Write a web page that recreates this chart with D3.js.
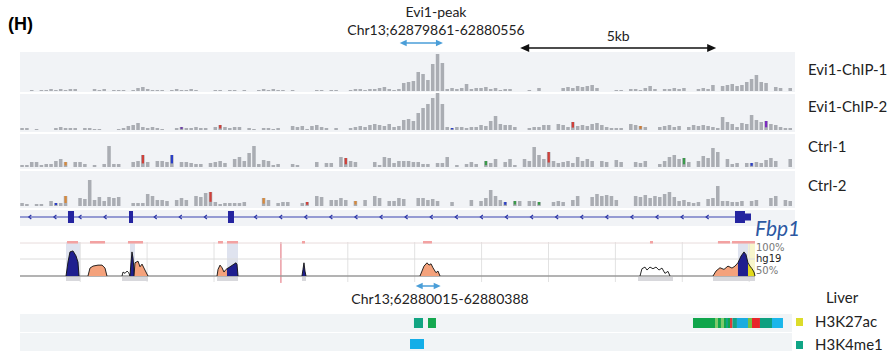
<!DOCTYPE html>
<html>
<head>
<meta charset="utf-8">
<script src="https://cdn.jsdelivr.net/npm/d3@7"></script>
<style>
  body { margin: 0; background: #fff; }
  svg text { font-family: Lato, "Open Sans", sans-serif; }
</style>
</head>
<body>
<svg id="chart" width="895" height="356"></svg>
<script>
// ---------- IGV view: chr13 window, read coverage in 160 bins ----------
const igvStart = 62869970, igvEnd = 62889690;
const nBins = 160;

const trackNames = ["Evi1-ChIP-1", "Evi1-ChIP-2", "Ctrl-1", "Ctrl-2"];

const evi1Chip1 = [
  0,0,1,0,1,1,2,1,2,1,   2,2,0,0,0,2,1,2,0,1,   1,1,0,1,3,4,2,1,1,1,   0,1,2,1,1,2,1,0,0,0,
  1,1,0,1,1,0,1,0,0,1,   2,1,2,1,1,0,1,0,0,0,   0,1,1,0,1,1,0,0,1,2,   2,1,2,2,3,4,2,1,2,8,
  9,10,19,17,11,27,37,28,2,3,   2,3,7,2,3,3,4,2,3,1,   2,2,0,0,0,1,0,3,0,0,   0,0,3,4,3,5,4,5,6,3,
  0,0,0,1,1,0,2,2,1,3,   5,2,0,2,2,3,2,3,0,0,   2,3,2,6,0,5,6,7,5,6,   9,12,16,9,8,0,4,3,0,3
];
const evi1Chip2 = [
  2,2,0,1,0,0,0,2,3,2,   2,2,0,2,2,1,1,0,0,0,   1,2,4,5,7,3,2,3,2,1,   0,0,2,3,2,2,3,2,2,0,
  3,5,3,2,3,3,0,2,1,0,   2,2,1,2,0,0,4,3,4,1,   4,5,3,2,0,2,0,0,2,3,   4,3,5,6,5,4,6,3,4,10,
  11,9,17,22,26,32,37,26,3,2,   3,3,2,3,3,5,4,9,14,6,   5,5,3,0,0,2,3,3,5,5,   0,6,5,3,8,4,5,4,6,7,
  5,3,2,2,2,0,6,5,4,3,   0,0,3,4,5,3,4,0,3,5,   4,5,4,3,2,13,8,6,3,7,   6,15,10,8,9,6,5,3,2,2
];
const ctrl1 = [
  2,2,5,5,2,3,3,6,8,5,   0,5,5,3,0,2,0,3,21,3,   3,0,0,5,6,12,5,0,6,6,   5,12,0,5,5,4,3,3,0,4,
  5,6,4,0,8,10,6,14,21,3,   7,6,2,3,0,0,3,2,0,0,   0,5,0,4,4,0,10,9,6,5,   0,0,0,5,2,10,9,4,6,6,
  6,5,5,3,3,0,4,4,10,0,   2,0,3,5,3,0,6,4,8,0,   5,8,2,0,8,6,20,12,8,15,   6,4,5,6,4,10,6,8,6,0,
  6,5,0,7,5,0,0,5,4,6,   0,0,3,6,10,12,8,9,5,0,   6,11,9,19,15,0,8,3,4,0,   4,4,5,4,7,9,6,0,0,8
];
const ctrl2 = [
  3,2,0,2,2,0,5,3,3,10,   0,0,8,7,26,6,9,5,9,8,   9,0,0,3,3,3,12,10,6,6,   5,0,6,8,6,0,10,9,13,14,
  4,2,3,3,3,3,4,0,0,0,   8,6,0,3,4,4,0,0,3,4,   0,10,9,0,6,6,8,6,0,5,   0,6,0,10,8,0,5,5,8,7,
  0,0,8,8,6,7,5,0,0,4,   0,0,0,6,0,5,8,16,10,6,   4,0,5,5,0,5,5,4,0,0,   4,5,4,0,6,10,0,0,9,12,
  10,11,10,6,0,0,0,10,9,11,   8,10,9,12,14,9,5,6,4,3,   4,0,7,8,20,5,5,4,4,5,   0,5,6,0,0,8,10,0,6,5
];

// mismatched-base bins per track: [bin, base colour]
const mismatchChip1 = [];
const mismatchChip2 = [[33,"#6e3fa8"],[41,"#d0403a"],[89,"#2b3fc8"],[114,"#d0403a"],[128,"#d07a30"],[154,"#7b2bc0"]];
const mismatchCtrl1 = [[9,"#d8893a"],[25,"#d0403a"],[31,"#2b3fc8"],[67,"#d0403a"],[96,"#3a9a4a"],[109,"#d0403a"],[137,"#3a9a4a"],[151,"#2b3fc8"]];
const mismatchCtrl2 = [[7,"#2b3fc8"],[9,"#d8893a"],[39,"#d0403a"],[50,"#d8893a"],[59,"#d0403a"],[69,"#d8893a"],[100,"#2b3fc8"],[102,"#3a9a4a"],[107,"#3a9a4a"]];

// Fbp1 gene model (minus strand)
const geneName = "Fbp1";
const geneEnd = 62888618;
const geneExons = [
  [62871194, 62871348, "cds"],
  [62872751, 62872853, "cds"],
  [62875276, 62875429, "cds"],
  [62888210, 62888465, "cds"],
  [62888465, 62888618, "utr"]
];

// annotations
const peakLabel = "Evi1-peak";
const peakStart = 62879861, peakEnd = 62880556;
const scaleBarStart = 62882730, scaleBarLength = 5000, scaleBarLabel = "5kb";

// ---------- UCSC view: conservation and chromatin marks ----------
const ucscStart = 62874100, ucscEnd = 62885610;
const consEnd = 10.987;          // kb from ucscStart where the conservation track stops
const markerKb = 3.9;            // red position marker
const regionStart = 62880015, regionEnd = 62880388;

// conservation elements: kb offset, conservation %
const consElements = [
  { fill: "#1f1f8f", pts: [[0.688,0],[0.717,42],[0.747,73],[0.792,76],[0.837,61],[0.867,42],[0.882,0]] },
  { fill: "#f4a27c", pts: [[1.016,0],[1.046,24],[1.091,30],[1.166,33],[1.226,33],[1.271,24],[1.300,0]] },
  { fill: "none",    pts: [[1.525,0],[1.540,12],[1.570,8],[1.600,15],[1.625,10],[1.644,0]] },
  { fill: "#1f1f8f", pts: [[1.644,0],[1.659,40],[1.674,73],[1.689,55],[1.704,20],[1.712,0]] },
  { fill: "#f4a27c", pts: [[1.704,0],[1.719,40],[1.764,45],[1.794,28],[1.824,36],[1.868,18],[1.898,6],[1.913,0]] },
  { fill: "#f4a27c", pts: [[2.945,0],[2.960,20],[2.990,33],[3.020,25],[3.049,12],[3.079,20],[3.094,22]] },
  { fill: "#1f1f8f", pts: [[3.094,22],[3.139,28],[3.184,34],[3.229,40],[3.244,35],[3.259,0]] },
  { fill: "#1f1f8f", pts: [[4.215,0],[4.230,20],[4.245,40],[4.260,15],[4.275,0]] },
  { fill: "#f4a27c", pts: [[5.979,0],[6.009,15],[6.039,30],[6.084,40],[6.114,33],[6.144,37],[6.173,25],[6.218,10],[6.248,15],[6.278,0]] },
  { fill: "none",    pts: [[9.268,0],[9.297,22],[9.342,27],[9.372,18],[9.417,27],[9.462,22],[9.507,27],[9.552,18],[9.596,24],[9.641,8],[9.686,14],[9.716,0]] },
  { fill: "#f4a27c", pts: [[10.359,0],[10.404,15],[10.463,25],[10.523,20],[10.583,30],[10.643,24],[10.688,30],[10.732,40]] },
  { fill: "#1f1f8f", pts: [[10.732,40],[10.777,60],[10.822,73],[10.852,65],[10.882,40]] },
  { fill: "#e2da1c", pts: [[10.882,40],[10.912,30],[10.942,22],[10.972,12],[10.987,0]] }
];
const consHighlights = [[0.688,0.897,"#dfe3ef"],[1.644,1.719,"#dfe3ef"],[3.094,3.259,"#dfe3ef"],[10.732,10.882,"#dfe3ef"],[10.882,10.987,"#f8f6cc"]];
const consBaseBars = [[0.688,0.897],[1.525,1.913],[2.945,3.259],[4.215,4.275],[9.238,9.761],[10.359,10.987]];
const consPinkDashes = [[0.703,0.867],[1.046,1.271],[1.614,1.839],[2.960,3.034],[3.094,3.259],[4.215,4.260],[6.024,6.158],[9.417,9.462],[10.433,10.613],[10.643,10.987]];
const consLabels = ["100%", "hg19", "50%"];

// chromatin segments per row: kb start, kb end, colour
const rowH3K27ac = [
  [5.889,6.024,"#12a582"],[6.099,6.218,"#14a84f"],
  [10.060,10.389,"#10a64c"],[10.389,10.433,"#7fc96a"],[10.433,10.478,"#10a64c"],[10.478,10.523,"#7fc96a"],
  [10.523,10.553,"#10a64c"],[10.553,10.583,"#12a386"],[10.583,10.613,"#10a64c"],[10.613,10.650,"#e03a3a"],
  [10.650,10.717,"#12a386"],[10.717,10.882,"#1aacdf"],[10.882,10.942,"#76c144"],[10.942,11.061,"#e8262b"],
  [11.061,11.241,"#0ea080"],[11.241,11.405,"#1ab6ea"]
];
const rowH3K4me1 = [[5.830,6.039,"#14aee8"]];
const legendTitle = "Liver";
const legendItems = [["H3K27ac","#dcdc2a"],["H3K4me1","#10a586"]];

// ---------- drawing ----------
const svg = d3.select("#chart");
const igvX = d3.scaleLinear().domain([igvStart, igvEnd]).range([20, 793]);
const binX = d3.scaleLinear().domain([0, nBins]).range([20, 793]);
const ucscX = d3.scaleLinear().domain([ucscStart, ucscEnd]).range([20, 790]);
const kbX = kb => ucscX(ucscStart + kb * 1000);

// panel letter
svg.append("text").attr("x", 8).attr("y", 30).attr("font-size", 18).attr("font-weight", "bold")
  .style("font-family", "'Liberation Sans', Arial, sans-serif").text("(H)");

// double-headed arrow helper
function dArrow(x1, x2, y, color, head, half, w) {
  const g = svg.append("g");
  g.append("line").attr("x1", x1 + head * 0.6).attr("x2", x2 - head * 0.6).attr("y1", y).attr("y2", y)
    .attr("stroke", color).attr("stroke-width", w);
  g.append("path").attr("d", `M${x1},${y}L${x1 + head},${y - half}L${x1 + head},${y + half}Z`).attr("fill", color);
  g.append("path").attr("d", `M${x2},${y}L${x2 - head},${y - half}L${x2 - head},${y + half}Z`).attr("fill", color);
}

// peak annotation
svg.append("text").attr("x", 436).attr("y", 17).attr("text-anchor", "middle").attr("font-size", 14).attr("fill", "#222").text(peakLabel);
svg.append("text").attr("x", 436).attr("y", 35).attr("text-anchor", "middle").attr("font-size", 14).attr("fill", "#222")
  .text(`Chr13;${peakStart}-${peakEnd}`);
dArrow(igvX(peakStart) - 8, igvX(peakEnd) + 8, 43, "#4a9ed8", 7, 3.2, 1.5);

// scale bar
dArrow(igvX(scaleBarStart), igvX(scaleBarStart + scaleBarLength), 48, "#111", 9, 4, 1.3);
svg.append("text").attr("x", (igvX(scaleBarStart) + igvX(scaleBarStart + scaleBarLength)) / 2).attr("y", 41)
  .attr("text-anchor", "middle").attr("font-size", 14).attr("fill", "#222").text(scaleBarLabel);

// coverage tracks
const tracks = [
  { name: trackNames[0], values: evi1Chip1, mm: mismatchChip1, top: 52, bottom: 92, base: 91 },
  { name: trackNames[1], values: evi1Chip2, mm: mismatchChip2, top: 94, bottom: 132, base: 130 },
  { name: trackNames[2], values: ctrl1,     mm: mismatchCtrl1, top: 134, bottom: 169, base: 167 },
  { name: trackNames[3], values: ctrl2,     mm: mismatchCtrl2, top: 171, bottom: 208, base: 206 }
];
const labelY = [75, 112, 152, 191];
const bw = binX(1) - binX(0);

tracks.forEach((t, i) => {
  const y = d3.scaleLinear().domain([0, 40]).range([t.base, t.base - 40]);
  const g = svg.append("g");
  g.append("rect").attr("x", 20).attr("y", t.top).attr("width", 775).attr("height", t.bottom - t.top).attr("fill", "#f1f3f6");
  g.selectAll("rect.bar").data(t.values).join("rect").attr("class", "bar")
    .attr("x", (d, j) => binX(j) + 0.3).attr("width", bw - 1.3)
    .attr("y", d => y(d)).attr("height", d => y(0) - y(d)).attr("fill", "#aaadb3");
  g.selectAll("rect.mm").data(t.mm).join("rect").attr("class", "mm")
    .attr("x", d => binX(d[0]) + 1).attr("width", bw - 2.6)
    .attr("y", d => y(t.values[d[0]]))
    .attr("height", d => (y(0) - y(t.values[d[0]])) * 0.7)
    .attr("fill", d => d[1]);
  svg.append("text").attr("x", 808).attr("y", labelY[i]).attr("font-size", 15).attr("fill", "#222").text(t.name);
});

// gene track
const geneY = 217;
svg.append("rect").attr("x", 20).attr("y", 210).attr("width", 775).attr("height", 16).attr("fill", "#f1f3f6");
svg.append("line").attr("x1", igvX(igvStart)).attr("x2", igvX(geneEnd)).attr("y1", geneY).attr("y2", geneY)
  .attr("stroke", "#3a44b0").attr("stroke-width", 1.2);
const chevrons = d3.range(igvStart + 250, geneEnd - 300, 640)
  .filter(p => !geneExons.some(e => p > e[0] - 150 && p < e[1] + 150));
svg.selectAll("path.chev").data(chevrons).join("path").attr("class", "chev")
  .attr("d", p => { const x = igvX(p); return `M${x + 1.5},${geneY - 2}L${x - 1},${geneY}L${x + 1.5},${geneY + 2}`; })
  .attr("fill", "none").attr("stroke", "#2c36a8").attr("stroke-width", 1.2);
svg.selectAll("rect.exon").data(geneExons).join("rect").attr("class", "exon")
  .attr("x", e => igvX(e[0])).attr("width", e => igvX(e[1]) - igvX(e[0]))
  .attr("y", e => e[2] === "cds" ? geneY - 6 : geneY - 3.5)
  .attr("height", e => e[2] === "cds" ? 12 : 7)
  .attr("fill", "#2424a0");
svg.append("text").attr("x", 755).attr("y", 236).attr("font-size", 21).attr("font-style", "italic")
  .attr("fill", "#2c58a2").text(geneName);

// conservation track
const consY = d3.scaleLinear().domain([0, 100]).range([276, 243]);
const cons = svg.append("g");
consHighlights.forEach(h => cons.append("rect").attr("x", kbX(h[0])).attr("width", kbX(h[1]) - kbX(h[0]))
  .attr("y", 242).attr("height", 35).attr("fill", h[2]));
d3.range(Math.ceil(ucscStart / 1000) * 1000, ucscStart + consEnd * 1000 + 1, 1000).forEach(p => {
  cons.append("line").attr("x1", ucscX(p)).attr("x2", ucscX(p)).attr("y1", 242).attr("y2", 282)
    .attr("stroke", "#e2e2e2").attr("stroke-width", 1);
});
cons.append("line").attr("x1", kbX(markerKb)).attr("x2", kbX(markerKb)).attr("y1", 242).attr("y2", 283)
  .attr("stroke", "#ee8c96").attr("stroke-width", 1.2);
[[243, "#e8dcdc", 1], [259, "#dcdcdc", 1], [276, "#9a9a9a", 1.4]].forEach(l =>
  cons.append("line").attr("x1", 20).attr("x2", kbX(consEnd)).attr("y1", l[0]).attr("y2", l[0])
    .attr("stroke", l[1]).attr("stroke-width", l[2]));
consPinkDashes.forEach(d => cons.append("rect").attr("x", kbX(d[0])).attr("width", kbX(d[1]) - kbX(d[0]))
  .attr("y", 241).attr("height", 2.5).attr("fill", "#f3a2a2"));
consBaseBars.forEach(d => cons.append("rect").attr("x", kbX(d[0])).attr("width", kbX(d[1]) - kbX(d[0]))
  .attr("y", 277).attr("height", 4).attr("fill", "#d8d8dc"));
const area = d3.area().x(d => kbX(d[0])).y0(consY(0)).y1(d => consY(d[1]));
const line = d3.line().x(d => kbX(d[0])).y(d => consY(d[1]));
consElements.forEach(e => {
  if (e.fill !== "none") cons.append("path").attr("d", area(e.pts)).attr("fill", e.fill);
  cons.append("path").attr("d", line(e.pts)).attr("fill", "none").attr("stroke", "#111").attr("stroke-width", 0.9);
});
[[251, "#777"], [262, "#222"], [274, "#777"]].forEach((s, i) =>
  svg.append("text").attr("x", kbX(consEnd) + 1).attr("y", s[0]).attr("font-size", 10)
    .style("font-family", "'DejaVu Sans', Verdana, sans-serif").attr("fill", s[1]).text(consLabels[i]));

// region arrow and label
dArrow(ucscX(regionStart), ucscX(regionEnd), 286, "#4a9ed8", 7, 3.2, 1.5);
svg.append("text").attr("x", 440).attr("y", 304).attr("text-anchor", "middle").attr("font-size", 14).attr("fill", "#222")
  .text(`Chr13;${regionStart}-${regionEnd}`);

// chromatin rows
[[rowH3K27ac, 314, 318], [rowH3K4me1, 333, 339]].forEach(r => {
  svg.append("rect").attr("x", 20).attr("y", r[1]).attr("width", 772).attr("height", 18).attr("fill", "#f1f4f6");
  svg.selectAll(null).data(r[0]).join("rect")
    .attr("x", d => kbX(d[0])).attr("width", d => kbX(d[1]) - kbX(d[0]))
    .attr("y", r[2]).attr("height", 10).attr("fill", d => d[2]);
});

// legend
svg.append("text").attr("x", 842).attr("y", 303).attr("text-anchor", "middle").attr("font-size", 15).attr("fill", "#222").text(legendTitle);
legendItems.forEach((it, i) => {
  const y = 318 + i * 23;
  svg.append("rect").attr("x", 796).attr("y", y).attr("width", 7).attr("height", 8).attr("fill", it[1]);
  svg.append("text").attr("x", 815).attr("y", y + 9).attr("font-size", 15).attr("fill", "#222").text(it[0]);
});
</script>
</body>
</html>
